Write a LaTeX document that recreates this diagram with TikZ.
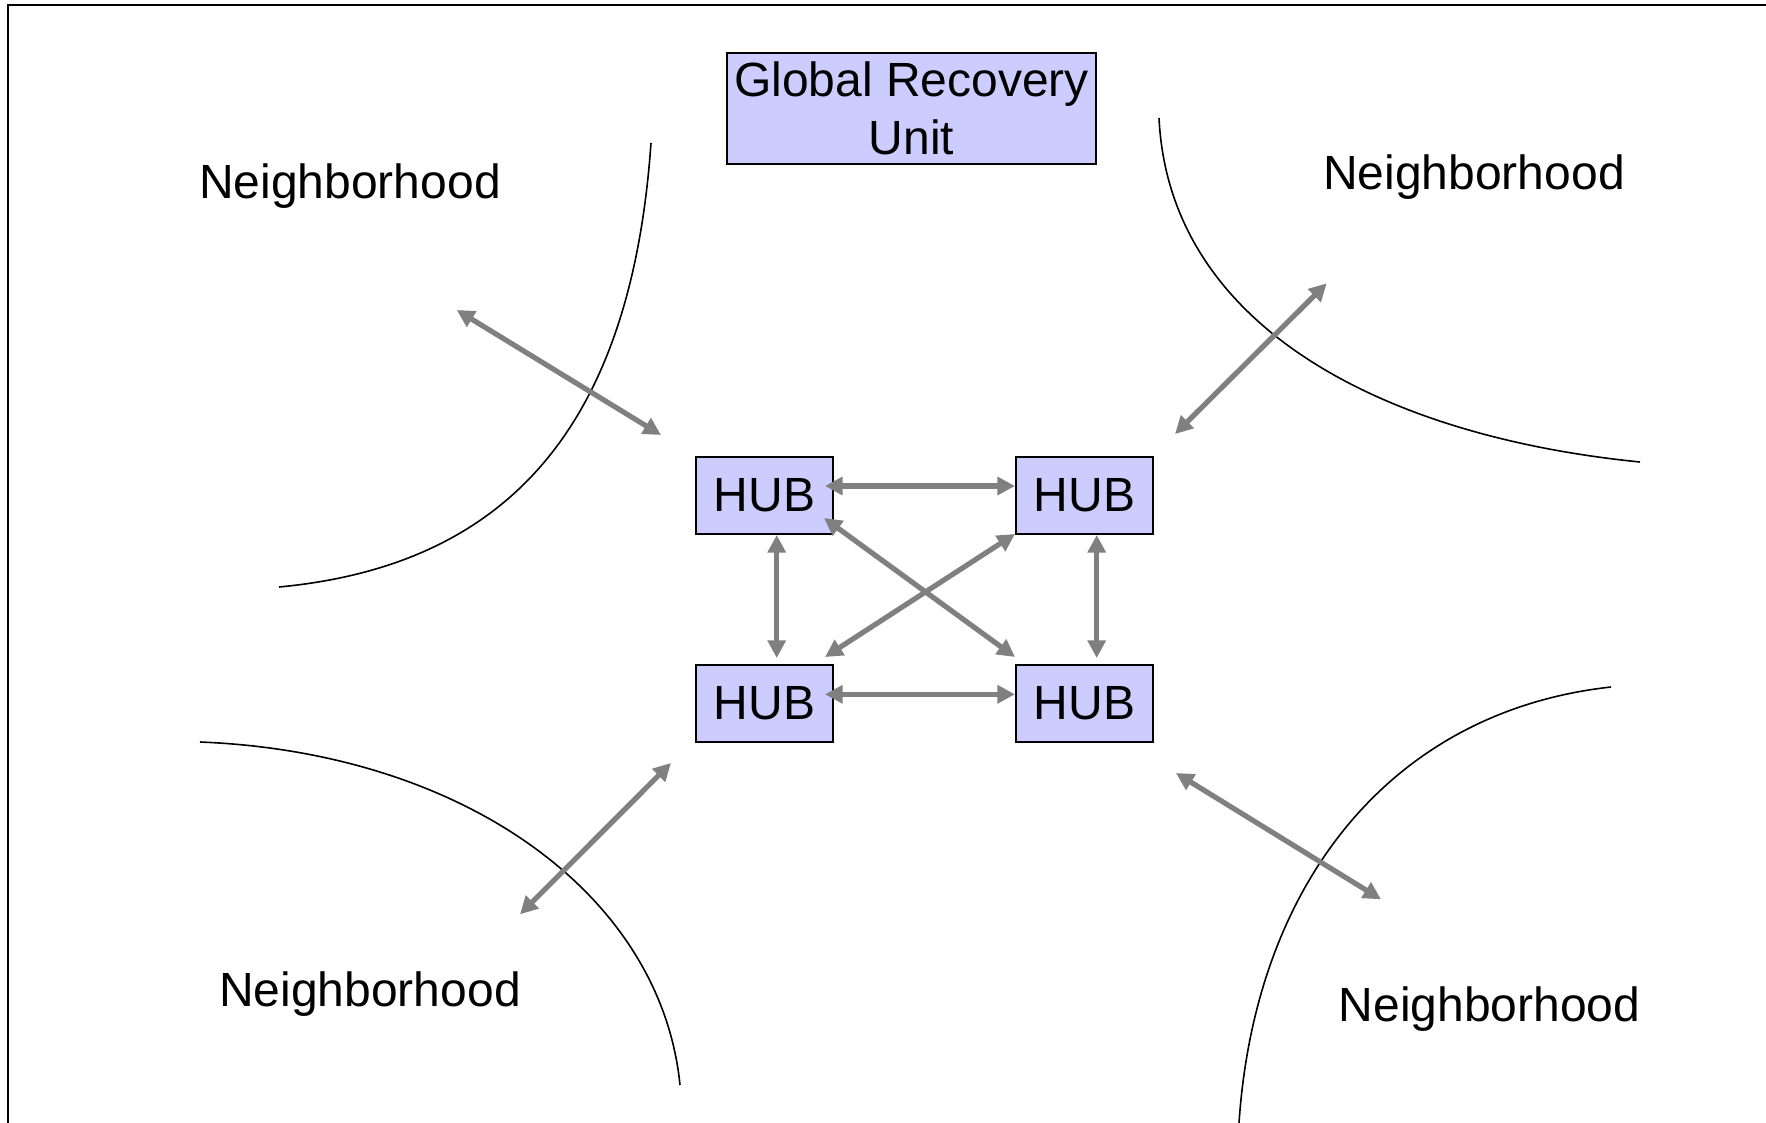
\documentclass[tikz,border=0pt]{standalone}
\usepackage{fontspec}
\setmainfont{Liberation Sans}
\usetikzlibrary{arrows.meta,calc}
\definecolor{hubfill}{RGB}{204,204,255}
\definecolor{linkgray}{RGB}{128,128,128}
\begin{document}
\begin{tikzpicture}[x=0.5pt,y=-0.5pt,
  label/.style={font=\fontsize{24}{29.3}\selectfont, inner sep=0pt, anchor=base},
  hubbox/.style={draw=black, line width=0.65pt, fill=hubfill, minimum width=68.5pt,
    minimum height=38.5pt, inner sep=0pt, outer sep=0pt, font=\fontsize{24}{29.3}\selectfont},
  unitbox/.style={draw=black, line width=0.65pt, fill=hubfill, minimum width=184.5pt,
    minimum height=55.5pt, inner sep=0pt, outer sep=0pt, align=center,
    font=\fontsize{24}{29.3}\selectfont},
  link/.style={draw=linkgray, line width=2.6pt,
    {Triangle[length=8.8pt,width=8.8pt]}-{Triangle[length=8.8pt,width=8.8pt]}},
  arcline/.style={draw=black, line width=0.8pt}]

\useasboundingbox (0,0) rectangle (1766,1123);

% page frame (left and top edges)
\draw[line width=1pt] (7.7,1123) -- (7.7,5.5) -- (1766,5.5);

% global unit
\node[unitbox] (gru) at (911.5,108.5) {Global Recovery\\Unit};

% hubs
\node[hubbox] (tl) at (764.5,495.5) {HUB};
\node[hubbox] (tr) at (1084.5,495.5) {HUB};
\node[hubbox] (bl) at (764.5,703.5) {HUB};
\node[hubbox] (br) at (1084.5,703.5) {HUB};

% neighborhood boundaries
\draw[arcline] (651,143) .. controls (632,413) and (519,564.4) .. (279,587);
\draw[arcline] (1159,118) .. controls (1169,325) and (1380,436) .. (1640,462);
\draw[arcline] (200,742) .. controls (465,752.6) and (661,895) .. (680,1085);
\draw[arcline] (1611,687) .. controls (1393,711) and (1255.2,881) .. (1239,1123);

% neighborhood labels
\node[label] (nbtl) at (350,198.5) {Neighborhood};
\node[label] (nbtr) at (1474,189.5) {Neighborhood};
\node[label] (nbbl) at (370,1006.5) {Neighborhood};
\node[label] (nbbr) at (1489.5,1021.5) {Neighborhood};

% hub mesh
\draw[link] ($(tl.east)+(-8,-9.5)$) -- ($(tr.west)+(-1,-9.5)$);
\draw[link] ($(bl.east)+(-8,-9.2)$) -- ($(br.west)+(-1,-9.2)$);
\draw[link] ($(tl.south)+(12.2,1)$) -- ($(bl.north)+(12.2,-7)$);
\draw[link] ($(tr.south)+(12.2,1)$) -- ($(br.north)+(12.2,-7)$);
\draw[link] ($(tl.south east)+(-9,-16)$) -- ($(br.north west)+(-1,-8)$);
\draw[link] ($(tr.south west)+(-1,0)$) -- ($(bl.north east)+(-8,-8)$);

% links out to the neighborhoods
\coordinate (outtl) at (456.7,310);
\coordinate (outtr) at (1326.7,283.3);
\coordinate (outbl) at (520,914.3);
\coordinate (outbr) at (1381,899.3);
\draw[link] (outtl) -- ($(tl.north west)+(-35,-22)$);
\draw[link] (outtr) -- ($(tr.north east)+(22,-23)$);
\draw[link] (outbl) -- ($(bl.south west)+(-25,21)$);
\draw[link] (outbr) -- ($(br.south east)+(23,31)$);
\end{tikzpicture}
\end{document}
